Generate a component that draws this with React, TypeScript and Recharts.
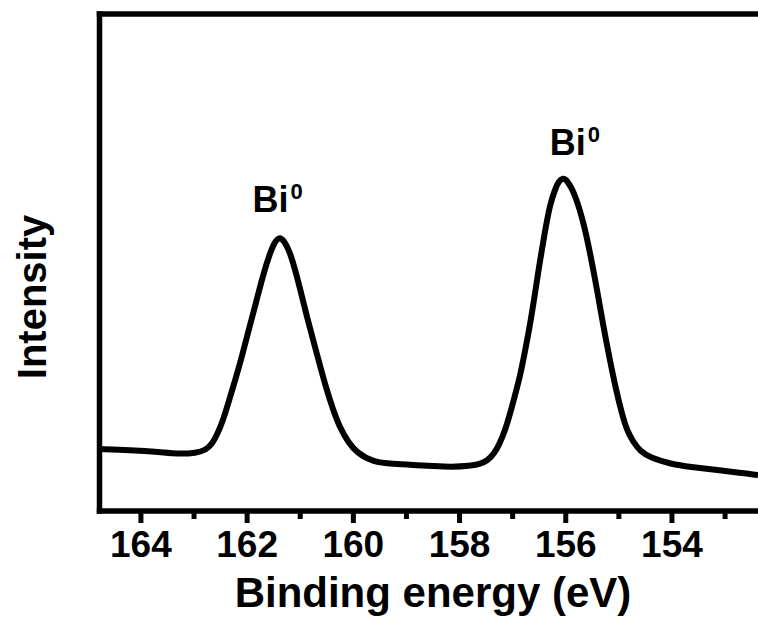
import { Line, LineChart, ReferenceDot, XAxis, YAxis } from "recharts";

// Bi 4f region: binding energy (eV) and intensity (a.u.)
const energy = [
  164.77, 164.21, 163.64, 163.32, 162.95, 162.78, 162.66, 162.57, 162.47, 162.36, 162.23, 162.1,
  161.97, 161.83, 161.7, 161.57, 161.48, 161.4, 161.31, 161.18, 161.01, 160.86, 160.69, 160.52,
  160.38, 160.25, 160.1, 159.93, 159.63, 159.25, 158.88, 158.5, 158.16, 157.8, 157.62, 157.48,
  157.35, 157.24, 157.14, 157.05, 156.96, 156.86, 156.77, 156.67, 156.58, 156.49, 156.39, 156.3,
  156.2, 156.13, 156.05, 155.98, 155.83, 155.64, 155.51, 155.41, 155.3, 155.17, 155.04, 154.94,
  154.85, 154.73, 154.6, 154.4, 154.02, 153.66, 153.13, 152.72, 152.38,
];
const intensity = [
  62, 61, 59, 57, 58, 61, 67, 76, 88, 107, 130, 154,
  181, 209, 236, 258, 269, 274, 271, 258, 224, 191, 158, 124,
  101, 83, 69, 58, 49, 47, 46, 45, 44, 45, 47, 50,
  57, 68, 81, 97, 115, 135, 159, 187, 217, 249, 280, 306,
  322, 330, 333, 331, 318, 284, 249, 221, 187, 151, 118, 97,
  81, 69, 60, 53, 47, 44, 41, 38, 36,
];

const majorTicks = [164, 162, 160, 158, 156, 154];
const allTicks = [164, 163, 162, 161, 160, 159, 158, 157, 156, 155, 154, 153];

// peak annotations (anchor at the start of the text baseline)
const peakLabels = ["Bi", "Bi"];
const peakLabelEv = [161.9, 156.3];
const peakLabelY = [299, 356];

const xDomain: [number, number] = [152.38, 164.78];
const yDomain: [number, number] = [0, 497];

const FONT = "'Liberation Sans', Arial, Helvetica, sans-serif";

const data = energy.map((ev, i) => ({ ev, intensity: intensity[i] }));

function EnergyTick({ x, y, payload }: any) {
  const major = majorTicks.includes(payload.value);
  return (
    <g>
      <line x1={x} x2={x} y1={y} y2={y + (major ? 12 : 8)} stroke="#000" strokeWidth={5} />
      {major && (
        <text x={x} y={y + 46} textAnchor="middle" fontFamily={FONT} fontWeight="bold" fontSize={37} fill="#000">
          {payload.value}
        </text>
      )}
    </g>
  );
}

function PeakLabel({ viewBox, text }: any) {
  if (!viewBox) return null;
  return (
    <text x={viewBox.cx ?? viewBox.x} y={viewBox.cy ?? viewBox.y} fontFamily={FONT} fontWeight="bold" fill="#000">
      <tspan fontSize={36}>{text}</tspan>
      <tspan fontSize={22} dx={2} dy={-13}>
        0
      </tspan>
    </text>
  );
}

export default function App() {
  const axisLine = { stroke: "#000", strokeWidth: 5.5, strokeLinecap: "square" as const };
  return (
    <div style={{ position: "absolute", left: 0, top: 0, width: 758, height: 621, background: "#fff" }}>
      <LineChart width={758} height={621} data={data} margin={{ top: 13, right: 0, bottom: 0, left: 98.5 }}>
        <XAxis
          dataKey="ev"
          type="number"
          domain={xDomain}
          reversed
          allowDataOverflow
          ticks={allTicks}
          interval={0}
          height={110}
          tickSize={0}
          tickMargin={0}
          tickLine={false}
          tick={<EnergyTick />}
          axisLine={axisLine}
          label={() => (
            <text x={433} y={607} textAnchor="middle" fontFamily={FONT} fontWeight="bold" fontSize={42} fill="#000">
              Binding energy (eV)
            </text>
          )}
        />
        <XAxis
          xAxisId="top"
          orientation="top"
          dataKey="ev"
          type="number"
          domain={xDomain}
          reversed
          allowDataOverflow
          height={1}
          tick={false}
          tickLine={false}
          axisLine={axisLine}
        />
        <YAxis
          type="number"
          domain={yDomain}
          allowDataOverflow
          width={1}
          tick={false}
          tickLine={false}
          axisLine={axisLine}
          label={() => (
            <text
              x={46}
              y={297}
              transform="rotate(-90 46 297)"
              textAnchor="middle"
              fontFamily={FONT}
              fontWeight="bold"
              fontSize={40}
              fill="#000"
            >
              Intensity
            </text>
          )}
        />
        <Line
          type="basis"
          dataKey="intensity"
          stroke="#000"
          strokeWidth={6}
          strokeLinejoin="round"
          dot={false}
          activeDot={false}
          isAnimationActive={false}
        />
        {peakLabels.map((t, i) => (
          <ReferenceDot
            key={i}
            x={peakLabelEv[i]}
            y={peakLabelY[i]}
            r={0}
            stroke="none"
            fill="none"
            label={<PeakLabel text={t} />}
          />
        ))}
      </LineChart>
    </div>
  );
}
